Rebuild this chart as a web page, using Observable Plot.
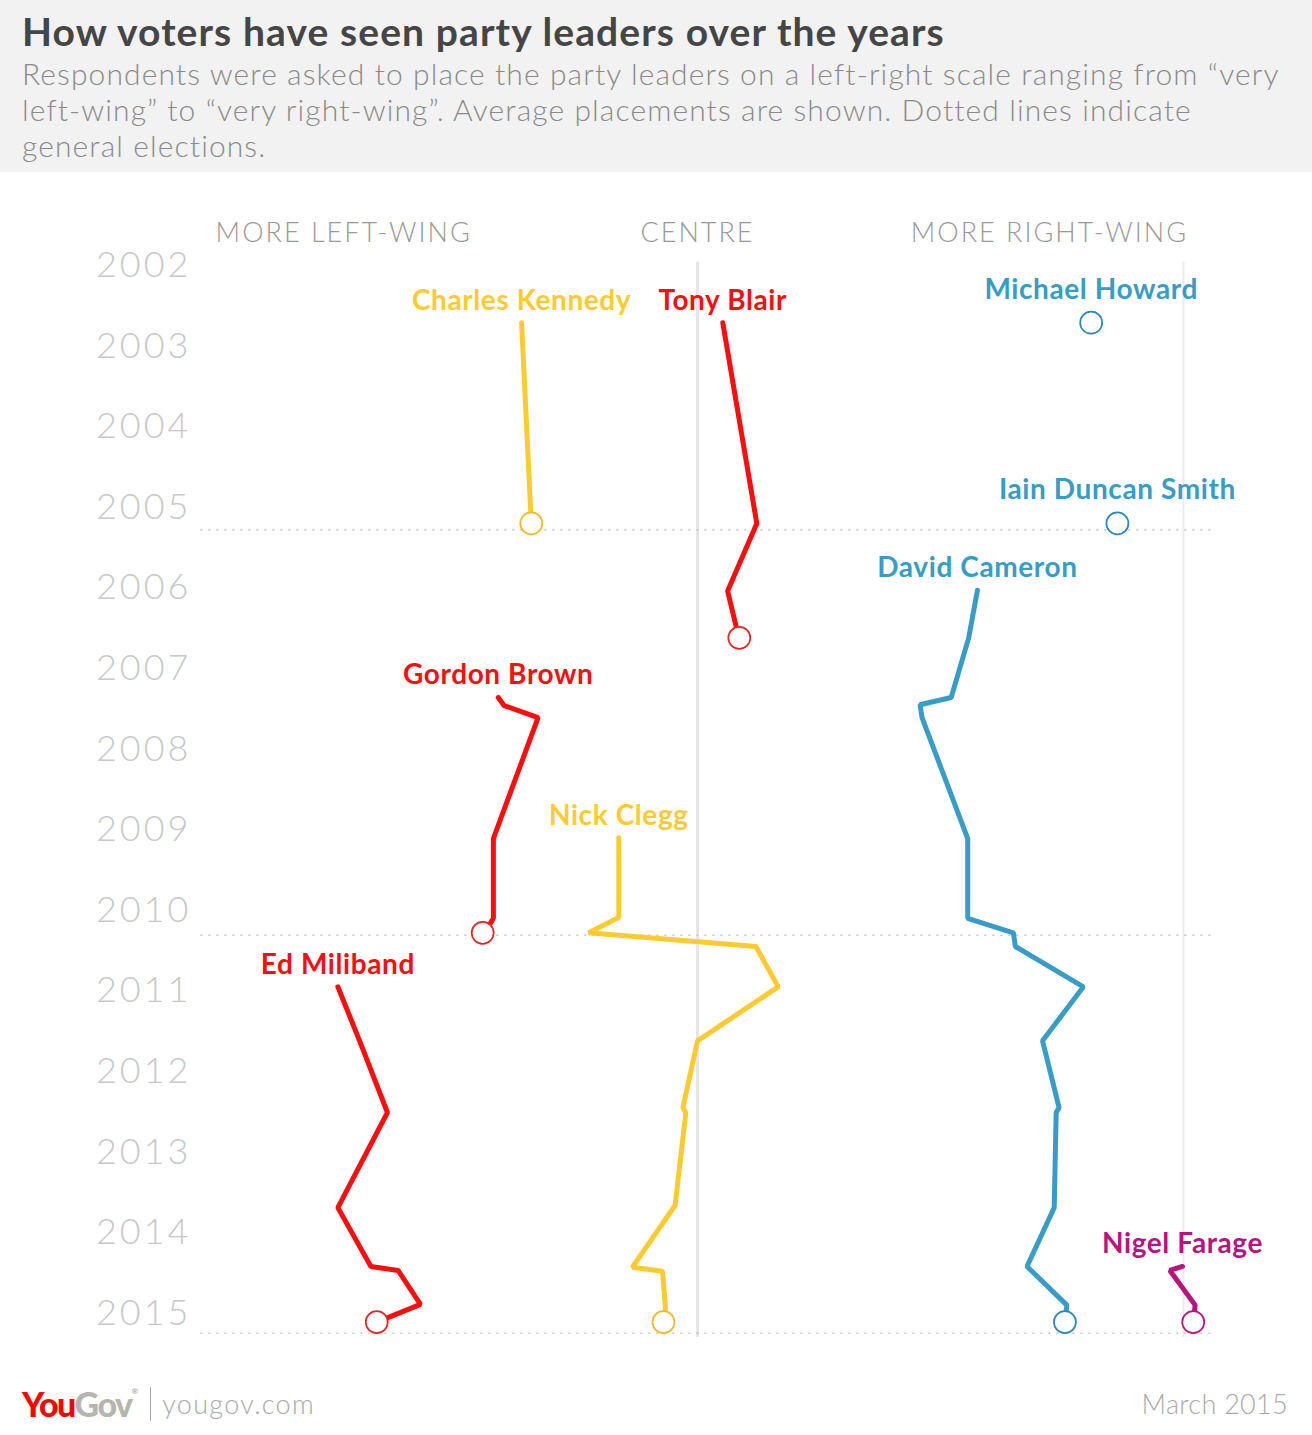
<!DOCTYPE html>
<html>
<head>
<meta charset="utf-8">
<script src="https://cdn.jsdelivr.net/npm/d3@7"></script>
<script src="https://cdn.jsdelivr.net/npm/@observablehq/plot@0.6"></script>
<style>
  html, body { margin: 0; padding: 0; background: #fff; }
  body { width: 1312px; font-family: Lato, "Open Sans", sans-serif; }
  #header { background: #f2f2f2; height: 172px; box-sizing: border-box; padding: 8px 0 0 22px; }
  #title { font-size: 39px; font-weight: 700; color: #454545; line-height: 46px; white-space: nowrap; letter-spacing: 1.1px; }
  #subtitle { font-size: 30px; font-weight: 300; color: #8a8a8a; line-height: 36px; margin-top: 1px; white-space: nowrap; letter-spacing: 1.1px; }
  #chart svg { display: block; overflow: visible; }
  g[aria-label="x-axis tick label"] text { letter-spacing: 2px; }
  g[aria-label="y-axis tick label"] text { letter-spacing: 3px; }
  g[aria-label="text"] text { letter-spacing: 0.6px; }
  #footer { height: 63px; display: flex; align-items: center; padding: 0 24px 0 22px; box-sizing: border-box; }
  #logo { font-size: 34px; font-weight: 900; letter-spacing: -1.5px; line-height: 1; }
  #logo .you { color: #ff0000; }
  #logo .gov { color: #b5b5ad; }
  #logo sup { font-size: 8px; color: #b5b5ad; vertical-align: top; letter-spacing: 0; }
  #sep { width: 1px; height: 34px; background: #aaa; margin: 0 11px 0 12px; }
  #site { font-size: 27px; font-weight: 300; color: #aaa; letter-spacing: 1.3px; }
  #date { margin-left: auto; font-size: 27px; font-weight: 300; color: #aaa; letter-spacing: 0.3px; }
</style>
</head>
<body>
<div id="header">
  <div id="title">How voters have seen party leaders over the years</div>
  <div id="subtitle">Respondents were asked to place the party leaders on a left-right scale ranging from “very<br>left-wing” to “very right-wing”. Average placements are shown. Dotted lines indicate<br>general elections.</div>
</div>
<div id="chart"></div>
<div id="footer">
  <div id="logo"><span class="you">You</span><span class="gov">Gov</span><sup>®</sup></div>
  <div id="sep"></div>
  <div id="site">yougov.com</div>
  <div id="date">March 2015</div>
</div>
<script>
// ---- tick labels / reference values ----
const years = [2002, 2003, 2004, 2005, 2006, 2007, 2008, 2009, 2010, 2011, 2012, 2013, 2014, 2015];
const elections = [2005.28, 2010.31, 2015.25];
const headerTicks = [-36.4, 0, 36.2];
const headerLabels = ["MORE LEFT-WING", "CENTRE", "MORE RIGHT-WING"];
const gridValues = [0, 50];

// ---- party colours ----
const partyLine = { Labour: "#ff0d0d", LibDem: "#fdcb30", Conservative: "#379cc7", UKIP: "#b8137f" };
const partyDot  = { Labour: "#e8231f", LibDem: "#f2b82c", Conservative: "#2b87ba", UKIP: "#b8137f" };

// ---- series: time (year) and average placement (-50 left ... +50 right) ----
const kennedyT = [2002.71, 2005.20];
const kennedyV = [-18.1, -17.1];
const blairT = [2002.71, 2005.20, 2006.04, 2006.49, 2006.62];
const blairV = [2.6, 6.1, 3.1, 4.0, 4.3];
const howardT = [2002.71];
const howardV = [40.5];
const idsT = [2005.20];
const idsV = [43.2];
const cameronT = [2006.03, 2006.62, 2007.36, 2007.45, 2007.61, 2009.11, 2010.10, 2010.28, 2010.45, 2010.95, 2011.62, 2012.45, 2012.51, 2013.69, 2014.42, 2014.90, 2015.11];
const cameronV = [28.8, 27.9, 26.1, 22.9, 23.1, 27.8, 27.8, 32.5, 32.7, 39.7, 35.5, 37.2, 36.9, 36.7, 33.9, 38.0, 37.8];
const brownT = [2007.36, 2007.46, 2007.61, 2009.11, 2010.10, 2010.16, 2010.28];
const brownV = [-20.5, -19.9, -16.4, -21.0, -21.0, -21.3, -22.1];
const cleggT = [2009.10, 2010.09, 2010.28, 2010.45, 2010.95, 2011.62, 2012.45, 2012.51, 2013.66, 2014.43, 2014.48, 2014.93, 2015.11];
const cleggV = [-8.1, -8.1, -11.2, 6.0, 8.3, 0.0, -1.5, -1.2, -2.3, -6.7, -3.6, -3.3, -3.5];
const milibandT = [2010.95, 2011.64, 2012.51, 2013.69, 2014.42, 2014.47, 2014.89, 2015.11];
const milibandV = [-37.0, -34.7, -31.9, -37.0, -33.6, -30.8, -28.5, -33.0];
const farageT = [2014.42, 2014.47, 2014.90, 2015.11];
const farageV = [49.9, 48.6, 51.2, 51.0];

const leaders = [
  { name: "Charles Kennedy", party: "LibDem", t: kennedyT, v: kennedyV },
  { name: "Tony Blair", party: "Labour", t: blairT, v: blairV },
  { name: "Michael Howard", party: "Conservative", t: howardT, v: howardV },
  { name: "Iain Duncan Smith", party: "Conservative", t: idsT, v: idsV },
  { name: "David Cameron", party: "Conservative", t: cameronT, v: cameronV },
  { name: "Gordon Brown", party: "Labour", t: brownT, v: brownV },
  { name: "Nick Clegg", party: "LibDem", t: cleggT, v: cleggV },
  { name: "Ed Miliband", party: "Labour", t: milibandT, v: milibandV },
  { name: "Nigel Farage", party: "UKIP", t: farageT, v: farageV }
];

const rows = leaders.flatMap(l => l.t.map((t, i) => ({ name: l.name, party: l.party, t, v: l.v[i] })));
const lastPts = leaders.map(l => ({ name: l.name, party: l.party, t: l.t[l.t.length - 1], v: l.v[l.v.length - 1] }));
const firstPts = leaders.map(l => ({ name: l.name, party: l.party, single: l.t.length === 1, t: l.t[0], v: l.v[0] }));

const chart = Plot.plot({
  width: 1312,
  height: 1200,
  marginLeft: 211,
  marginRight: 129,
  marginTop: 93,
  marginBottom: 19,
  style: { fontFamily: "Lato, 'Open Sans', sans-serif", background: "transparent", overflow: "visible" },
  x: { domain: [-50, 50], axis: null },
  y: { domain: [2002, 2015.5], reverse: true, axis: null, label: null },
  color: { type: "identity" },
  marks: [
    Plot.ruleX([gridValues[0]], { y1: 2001.96, y2: 2015.3, stroke: "#e6e6e6", strokeWidth: 3 }),
    Plot.ruleX([gridValues[1]], { y1: 2001.96, y2: 2015.3, stroke: "#ebebeb", strokeWidth: 2 }),
    Plot.ruleY(elections, { x1: -51.1, x2: 53.3, stroke: "#c4c4c4", strokeWidth: 1.5, strokeDasharray: "2,6" }),
    Plot.axisY({ ticks: years, tickFormat: d => String(d), tickSize: 0, tickPadding: 20, fontSize: 36, fontWeight: 300, color: "#c8c8c8", label: null }),
    Plot.axisX({ anchor: "top", ticks: headerTicks, tickFormat: d => headerLabels[headerTicks.indexOf(d)], tickSize: 0, tickPadding: 24, fontSize: 27, fontWeight: 300, color: "#999999", label: null }),
    Plot.line(rows, { x: "v", y: "t", z: "name", stroke: d => partyLine[d.party], strokeWidth: 5, strokeLinejoin: "miter", strokeLinecap: "round" }),
    Plot.dot(lastPts, { x: "v", y: "t", r: 11, fill: "white", stroke: d => partyDot[d.party], strokeWidth: 1.7 }),
    Plot.text(firstPts.filter(d => !d.single), { x: "v", y: "t", text: "name", fill: d => partyLine[d.party], dy: -22, fontSize: 28, fontWeight: 700, textAnchor: "middle", lineAnchor: "middle" }),
    Plot.text(firstPts.filter(d => d.single), { x: "v", y: "t", text: "name", fill: d => partyLine[d.party], dy: -33, fontSize: 28, fontWeight: 700, textAnchor: "middle", lineAnchor: "middle" })
  ]
});
document.getElementById("chart").appendChild(chart);
</script>
</body>
</html>
